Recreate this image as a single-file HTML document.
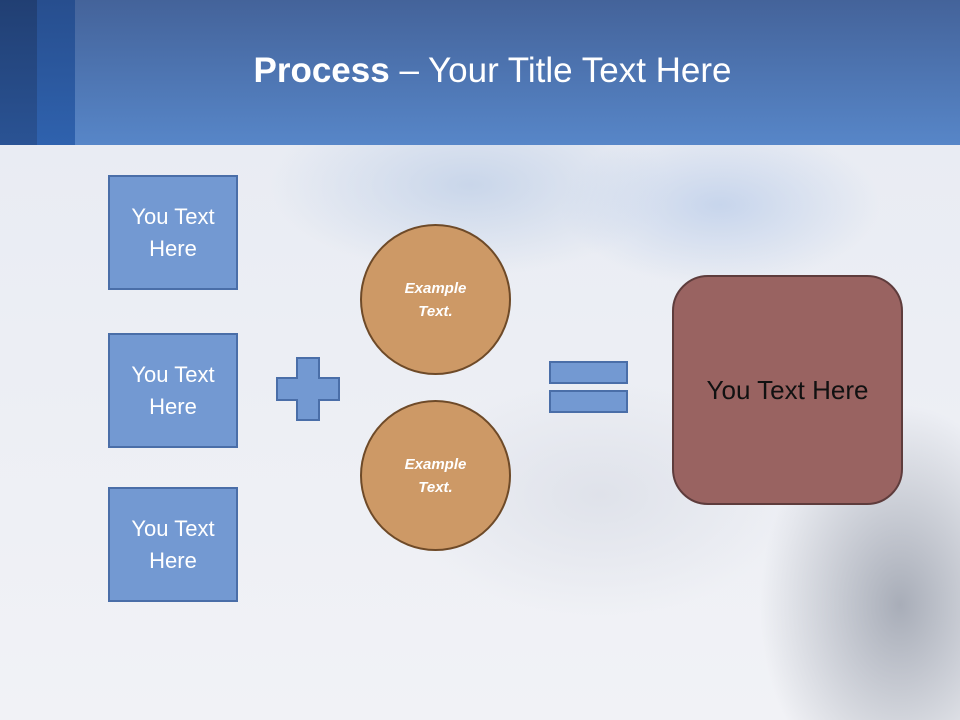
<!DOCTYPE html>
<html><head><meta charset="utf-8"><style>
body{margin:0;width:960px;height:720px;overflow:hidden;font-family:"Liberation Sans",sans-serif;position:relative;background:#eef0f5}
.a{position:absolute}
.bg{left:0;top:145px;width:960px;height:575px;background:
radial-gradient(ellipse 200px 90px at 470px 40px,#c9d6ea 0%,rgba(201,214,234,0) 100%),
radial-gradient(ellipse 160px 80px at 720px 60px,#c7d5ec 0%,rgba(199,214,236,0) 100%),
radial-gradient(ellipse 140px 200px at 900px 460px,#a8adb8 0%,rgba(168,173,184,0) 100%),
radial-gradient(ellipse 200px 120px at 600px 350px,#dfe2ea 0%,rgba(223,226,234,0) 100%),
linear-gradient(#e9ecf3,#f1f2f6)}
.box{width:126px;height:111px;background:#7399d2;border:2px solid #4a6ea8;color:#fff;font-size:22px;text-align:center;display:flex;align-items:center;justify-content:center;line-height:32px}
.c{width:147px;height:147px;border-radius:50%;background:#cd9966;border:2px solid #6e4a28;color:#fff;font-weight:bold;font-style:italic;font-size:15px;display:flex;align-items:center;justify-content:center;text-align:center;line-height:23px}
</style></head><body>
<div class="a bg"></div>
<div class="a" style="left:0;top:0;width:960px;height:145px;background:linear-gradient(#44639a,#5786c8)"></div>
<div class="a" style="left:0;top:0;width:37px;height:145px;background:linear-gradient(#213f73,#2a5394)"></div>
<div class="a" style="left:37px;top:0;width:38px;height:145px;background:linear-gradient(#274e8e,#2f62ae)"></div>
<div class="a" style="left:0;top:51px;width:985px;text-align:center;color:#fff;font-size:35px;"><b>Process</b> – Your Title Text Here</div>
<div class="a box" style="left:108px;top:175px">You Text<br>Here</div>
<div class="a box" style="left:108px;top:333px">You Text<br>Here</div>
<div class="a box" style="left:108px;top:487px">You Text<br>Here</div>
<svg class="a" style="left:0;top:0" width="960" height="720">
<path d="M297 358h22v20h20v22h-20v20h-22v-20h-20v-22h20z" fill="#7399d2" stroke="#4a6ea8" stroke-width="2"/>
<rect x="550" y="362" width="77" height="21" fill="#7399d2" stroke="#4a6ea8" stroke-width="2"/>
<rect x="550" y="391" width="77" height="21" fill="#7399d2" stroke="#4a6ea8" stroke-width="2"/>
</svg>
<div class="a c" style="left:360px;top:224px">Example<br>Text.</div>
<div class="a c" style="left:360px;top:400px">Example<br>Text.</div>
<div class="a" style="left:672px;top:275px;width:227px;height:226px;border-radius:36px;background:#996361;border:2px solid #5e3c3c;display:flex;align-items:center;justify-content:center;font-size:26px;color:#111">You Text Here</div>
</body></html>
